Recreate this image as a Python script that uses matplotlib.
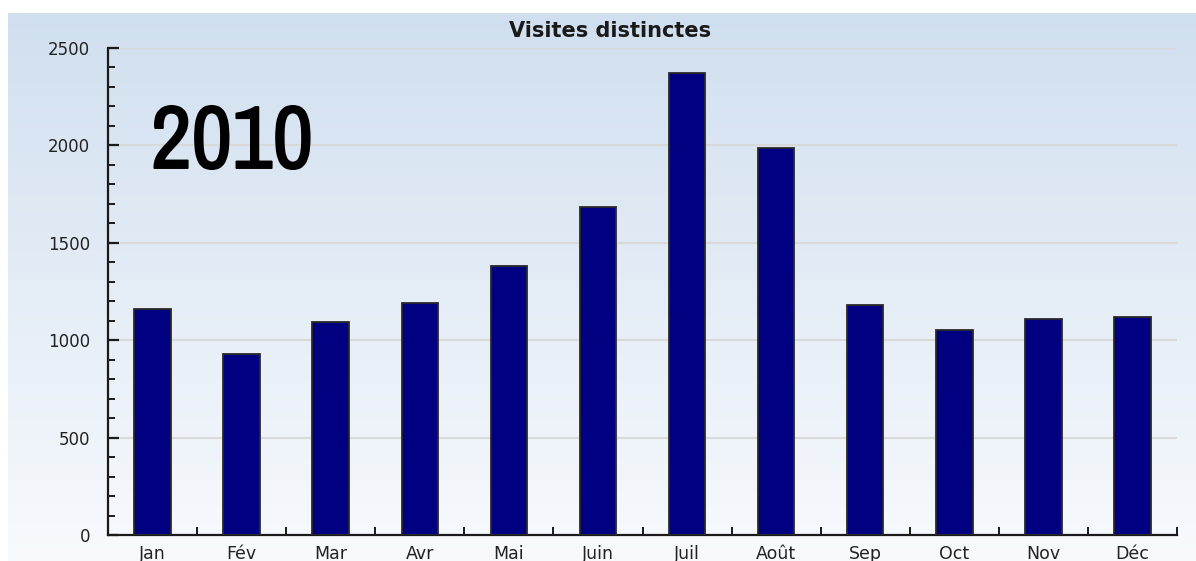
import numpy as np
import matplotlib.pyplot as plt
import matplotlib.patheffects as pe
from matplotlib.ticker import MultipleLocator, FixedLocator

# Données : visites distinctes par mois, 2010
mois = ['Jan', 'Fév', 'Mar', 'Avr', 'Mai', 'Juin', 'Juil', 'Août', 'Sep', 'Oct', 'Nov', 'Déc']
visites = [1160, 930, 1093, 1191, 1381, 1684, 2371, 1987, 1181, 1052, 1109, 1119]
annee = '2010'
titre = 'Visites distinctes'

W, H = 1196, 561
fig = plt.figure(figsize=(W / 100, H / 100), dpi=100)
fig.patch.set_facecolor('white')

# fond en dégradé (bleu clair en haut -> blanc en bas)
bg = fig.add_axes([8 / W, 0, 1 - 8 / W, (H - 13) / H], zorder=0)
haut = np.array([0.816, 0.875, 0.937])
bas = np.array([0.972, 0.980, 0.992])
t = np.linspace(0, 1, 256)[:, None]
grad = (haut * (1 - t) + bas * t)[:, None, :]
bg.imshow(grad, aspect='auto', extent=[0, 1, 0, 1])
bg.axis('off')

ax = fig.add_axes([108 / W, (H - 535) / H, (1177 - 108) / W, (535 - 48) / H], zorder=1)
ax.patch.set_alpha(0)

x = np.arange(len(mois))
ax.bar(x, visites, width=0.41, color='#000080', edgecolor='#2a2a2a', linewidth=1.3, zorder=3)

ax.set_xlim(-0.5, len(mois) - 0.5)
ax.set_ylim(0, 2500)

# grille horizontale
ax.yaxis.set_major_locator(MultipleLocator(500))
ax.yaxis.set_minor_locator(MultipleLocator(100))
for v in range(500, 2501, 500):
    ax.axhline(v, color='#d9d9d9', linewidth=1.5, zorder=1)

ax.set_xticks(x)
ax.set_xticklabels(mois)
ax.xaxis.set_minor_locator(FixedLocator(np.arange(0.5, len(mois), 1.0)))

for s in ['top', 'right']:
    ax.spines[s].set_visible(False)
for s in ['left', 'bottom']:
    ax.spines[s].set_linewidth(1.6)
    ax.spines[s].set_color('#1a1a1a')

ax.tick_params(axis='y', which='major', direction='in', length=8, width=1.6,
               color='#1a1a1a', pad=13, labelsize=12, labelcolor='#222222')
ax.tick_params(axis='y', which='minor', direction='in', length=5, width=1.4, color='#1a1a1a')
ax.tick_params(axis='x', which='major', length=0, pad=7, labelsize=12.5, labelcolor='#222222')
ax.tick_params(axis='x', which='minor', direction='in', length=6, width=1.4, color='#1a1a1a')

fig.text(610 / W, 1 - 31 / H, titre, ha='center', va='center',
         fontsize=15, fontweight='bold', color='#1a1a1a')

fig.text(151 / W, 1 - 168 / H, annee, ha='left', va='baseline',
         fontsize=64, fontweight='bold', color='black',
         family=['Liberation Sans Narrow', 'Archivo Narrow', 'Liberation Sans'],
         path_effects=[pe.withStroke(linewidth=1.4, foreground='black')])

fig.savefig('out.png', dpi=100)
